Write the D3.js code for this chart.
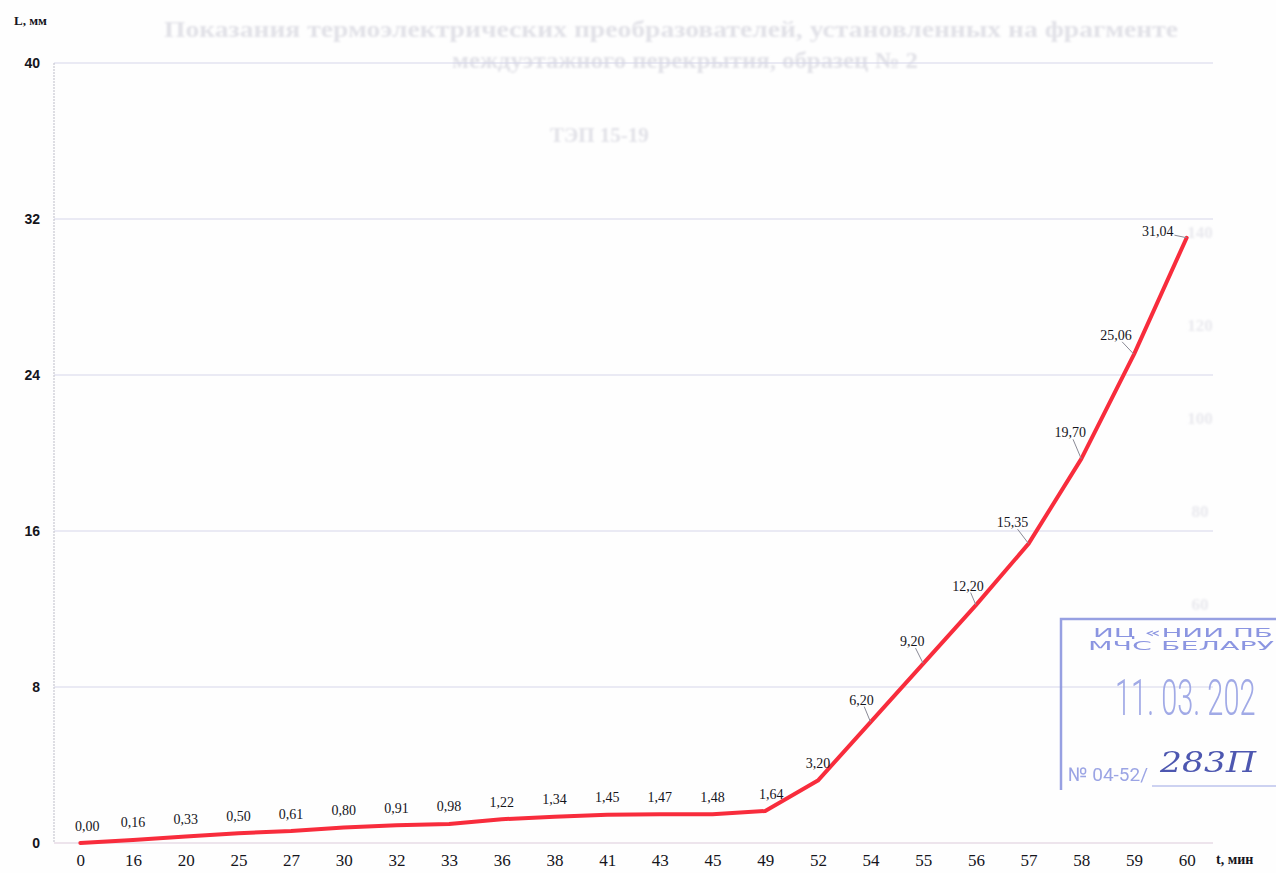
<!DOCTYPE html>
<html>
<head>
<meta charset="utf-8">
<script src="https://cdn.jsdelivr.net/npm/d3@7"></script>
<style>
  html, body { margin: 0; padding: 0; background: #fefefe; }
  svg { display: block; }
</style>
</head>
<body>
<svg id="chart" width="1276" height="873"></svg>
<script>
// Time points, min (categorical x axis)
const categories = ["0","16","20","25","27","30","32","33","36","38","41","43","45","49","52","54","55","56","57","58","59","60"];
// Measured length L, mm
const lengths = [0.00,0.16,0.33,0.50,0.61,0.80,0.91,0.98,1.22,1.34,1.45,1.47,1.48,1.64,3.20,6.20,9.20,12.20,15.35,19.70,25.06,31.04];
// Y axis tick values
const yTicks = [0, 8, 16, 24, 32, 40];
// Faint lines of text showing through the sheet
const ghostTitle = [
  "Показания термоэлектрических преобразователей, установленных на фрагменте",
  "междуэтажного перекрытия, образец № 2"
];
const ghostSubtitle = "ТЭП 15-19";
const ghostTicks = ["140", "120", "100", "80", "60"];

// ---- layout ----
const plot = { left: 54, right: 1213, top: 63, bottom: 843 };

// Label placement relative to its point: [dx, dy] of the label centre.
// Labels on the steep part are pulled up-left and joined with a leader line.
const defaultOffset = [0, -17];
const labelOffsets = {
  0: [7, -17], 13: [6, -17],
  15: [-9, -22], 16: [-11, -22], 17: [-8, -19], 18: [-16, -21],
  19: [-11, -26], 20: [-18, -19], 21: [-29, -6]
};
const leaderFor = new Set([15, 16, 17, 18, 19, 20, 21]);

const ink = "#15151c";
const serif = "'Liberation Serif', 'Times New Roman', serif";

const svg = d3.select("#chart");

// soft blur for the show-through text
svg.append("defs").append("filter")
  .attr("id", "soft")
  .append("feGaussianBlur").attr("stdDeviation", 0.8);

const x = d3.scalePoint()
  .domain(categories)
  .range([plot.left, plot.right])
  .padding(0.5);

const y = d3.scaleLinear()
  .domain([0, 40])
  .range([plot.bottom, plot.top]);

// ---- show-through text from the other side of the sheet ----
const ghost = svg.append("g")
  .attr("filter", "url(#soft)")
  .attr("fill", "#e1e1e7")
  .attr("font-family", serif)
  .attr("font-weight", "bold");
ghost.append("text")
  .attr("x", 164).attr("y", 37)
  .attr("font-size", 23)
  .attr("textLength", 1014)
  .attr("lengthAdjust", "spacingAndGlyphs")
  .text(ghostTitle[0]);
ghost.append("text")
  .attr("x", 452).attr("y", 68)
  .attr("font-size", 23)
  .attr("textLength", 466)
  .attr("lengthAdjust", "spacingAndGlyphs")
  .text(ghostTitle[1]);
ghost.append("text")
  .attr("x", 550).attr("y", 142)
  .attr("font-size", 21)
  .text(ghostSubtitle);
ghost.selectAll("text.tick")
  .data(ghostTicks)
  .join("text")
  .attr("class", "tick")
  .attr("x", 1200)
  .attr("y", (d, i) => 238 + i * 93)
  .attr("text-anchor", "middle")
  .attr("font-size", 17)
  .attr("fill", "#e9e9ee")
  .text(d => d);

// horizontal gridlines
svg.append("g")
  .selectAll("line")
  .data(yTicks.filter(v => v > 0))
  .join("line")
  .attr("x1", plot.left).attr("x2", plot.right)
  .attr("y1", d => y(d)).attr("y2", d => y(d))
  .attr("stroke", "#d6d6ea")
  .attr("stroke-width", 1.2);

// x axis baseline
svg.append("line")
  .attr("x1", plot.left).attr("x2", plot.right)
  .attr("y1", y(0)).attr("y2", y(0))
  .attr("stroke", "#dcc9da")
  .attr("stroke-width", 1.2);

// y axis (dotted)
svg.append("line")
  .attr("x1", plot.left).attr("x2", plot.left)
  .attr("y1", plot.top).attr("y2", plot.bottom)
  .attr("stroke", "#bdbdc8")
  .attr("stroke-width", 1)
  .attr("stroke-dasharray", "2,1");

// y tick labels
const yAxis = svg.append("g")
  .attr("transform", `translate(${plot.left},0)`)
  .call(d3.axisLeft(y).tickValues(yTicks).tickSize(0).tickPadding(14).tickFormat(d3.format("d")));
yAxis.select(".domain").remove();
yAxis.selectAll("text")
  .attr("font-family", "'Liberation Sans', Arial, sans-serif")
  .attr("font-weight", "bold")
  .attr("font-size", 14)
  .attr("fill", ink);

// x tick labels
const xAxis = svg.append("g")
  .attr("transform", `translate(0,${plot.bottom})`)
  .call(d3.axisBottom(x).tickSize(0).tickPadding(11));
xAxis.select(".domain").remove();
xAxis.selectAll("text")
  .attr("font-family", serif)
  .attr("font-size", 17)
  .attr("fill", ink);

// axis titles
svg.append("text")
  .attr("x", 14).attr("y", 25)
  .attr("font-family", serif)
  .attr("font-weight", "bold")
  .attr("font-size", 13)
  .attr("fill", ink)
  .text("L, мм");

svg.append("text")
  .attr("x", 1216).attr("y", 864)
  .attr("font-family", serif)
  .attr("font-weight", "bold")
  .attr("font-size", 14)
  .attr("fill", ink)
  .text("t, мин");

// data line
const pts = categories.map((c, i) => ({ c, v: lengths[i], i }));
svg.append("path")
  .datum(pts)
  .attr("fill", "none")
  .attr("stroke", "#f82c3c")
  .attr("stroke-width", 4)
  .attr("stroke-linejoin", "round")
  .attr("stroke-linecap", "round")
  .attr("d", d3.line().x(d => x(d.c)).y(d => y(d.v)));

// data labels
const fmt = v => v.toFixed(2).replace(".", ",");
const labels = svg.append("g")
  .attr("font-family", serif)
  .attr("font-size", 14)
  .attr("fill", ink);

pts.forEach(d => {
  const [dx, dy] = labelOffsets[d.i] || defaultOffset;
  const px = x(d.c), py = y(d.v);
  const cx = px + dx, cy = py + dy;
  const t = labels.append("text")
    .attr("x", cx).attr("y", cy)
    .attr("text-anchor", "middle")
    .attr("dominant-baseline", "central")
    .text(fmt(d.v));
  if (leaderFor.has(d.i)) {
    const b = t.node().getBBox();
    // walk from the label centre toward the point until leaving the box
    const vx = px - cx, vy = py - cy;
    const hw = b.width / 2 + 1, hh = b.height / 2 - 1;
    const s = Math.min(Math.abs(hw / (vx || 1e-6)), Math.abs(hh / (vy || 1e-6)));
    const sx = cx + vx * s, sy = cy + vy * s;
    svg.append("line")
      .attr("x1", sx).attr("y1", sy)
      .attr("x2", px).attr("y2", py)
      .attr("stroke", "#8a8a96")
      .attr("stroke-width", 1);
  }
});

// registry stamp in the lower-right corner
const stamp = svg.append("g").attr("opacity", 0.9);
stamp.append("path")
  .attr("d", "M1276,619 L1061,619 L1061,790")
  .attr("fill", "none")
  .attr("stroke", "#8c96e0")
  .attr("stroke-width", 2.5);
stamp.append("text")
  .attr("x", 1093).attr("y", 637)
  .attr("font-family", "'DejaVu Sans', sans-serif")
  .attr("font-size", 12.5)
  .attr("fill", "#7f8ade")
  .attr("textLength", 180)
  .attr("lengthAdjust", "spacingAndGlyphs")
  .text("ИЦ «НИИ ПБ");
stamp.append("text")
  .attr("x", 1088).attr("y", 650)
  .attr("font-family", "'DejaVu Sans', sans-serif")
  .attr("font-size", 12.5)
  .attr("fill", "#7f8ade")
  .attr("textLength", 186)
  .attr("lengthAdjust", "spacingAndGlyphs")
  .text("МЧС БЕЛАРУ");
// tall, narrow date digits
stamp.append("text")
  .attr("transform", "translate(1115,715) scale(1,1.75)")
  .attr("font-family", "Roboto, 'DejaVu Sans', sans-serif")
  .attr("font-weight", 300)
  .attr("font-size", 29)
  .attr("fill", "#97a1e4")
  .text("11. 03. 202");
stamp.append("text")
  .attr("x", 1068).attr("y", 781)
  .attr("font-family", "Roboto, 'DejaVu Sans', sans-serif")
  .attr("font-size", 19)
  .attr("fill", "#919be2")
  .text("№ 04-52/");
stamp.append("line")
  .attr("x1", 1152).attr("x2", 1276)
  .attr("y1", 786).attr("y2", 786)
  .attr("stroke", "#919be2").attr("stroke-width", 1.2);
stamp.append("text")
  .attr("x", 1160).attr("y", 772)
  .attr("font-family", "'DejaVu Serif', serif")
  .attr("font-style", "italic")
  .attr("font-size", 28)
  .attr("fill", "#3a45a8")
  .attr("textLength", 96)
  .attr("lengthAdjust", "spacingAndGlyphs")
  .text("283П");
</script>
</body>
</html>
